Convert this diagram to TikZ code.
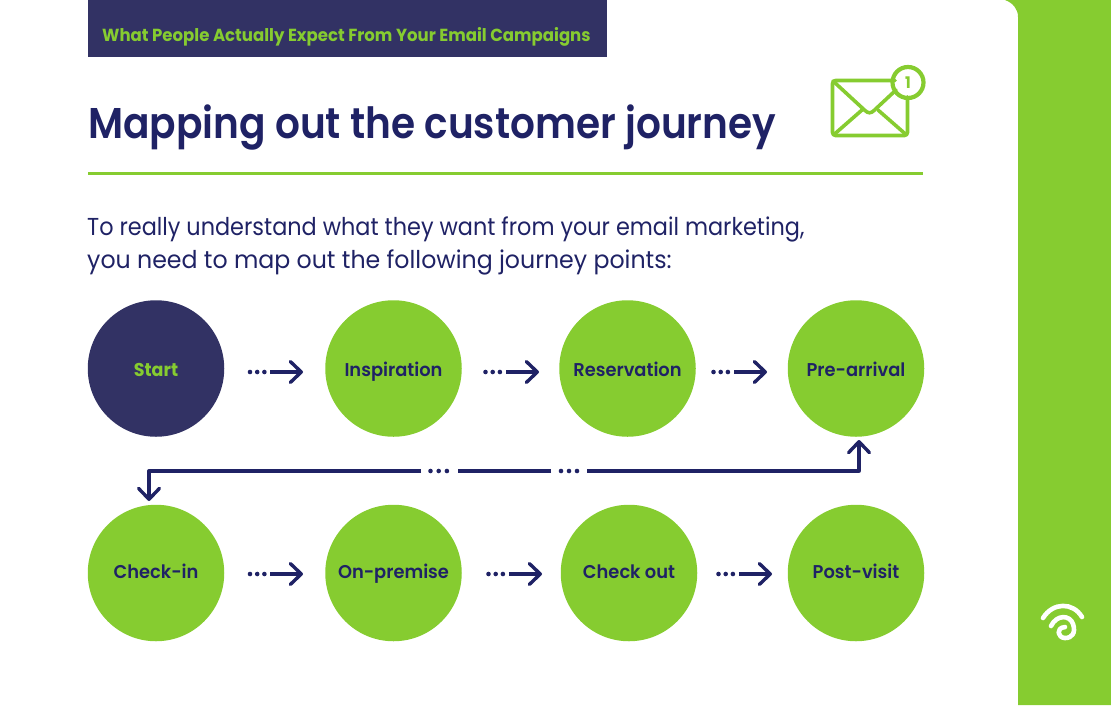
\documentclass[tikz,border=0pt]{standalone}
\usepackage{fontspec}
\setmainfont{Poppins}[BoldFont={Poppins SemiBold},FakeStretch=0.965]
\newfontfamily\titlefont{Poppins SemiBold}[FakeStretch=0.908]
\newfontfamily\headfont{Poppins Bold}[FakeStretch=0.945]
\newfontfamily\lineonefont{Poppins}[FakeStretch=0.913]
\newfontfamily\linetwofont{Poppins}[FakeStretch=0.966]
\usetikzlibrary{arrows.meta}
\definecolor{lime}{HTML}{86CC30}
\definecolor{navy}{HTML}{1F2265}
\definecolor{navyfill}{HTML}{323264}
\tikzset{
  x=1pt,y=-1pt,
  stage/.style={circle,fill=lime,minimum size=136.5pt,inner sep=0pt,text=navy,text height=18pt,text depth=2pt,font=\bfseries\fontsize{18.5}{20}\selectfont},
  lowstage/.style={stage,text height=14pt,text depth=3pt},
  conn/.style={draw=navy,line width=3.3pt,-{Straight Barb[length=11pt,width=21pt,line width=3.4pt,round]},line join=round},
  dots/.style={draw=navy,line width=4.6pt,line cap=round,dash pattern=on 0pt off 7.2pt},
  trunk/.style={draw=navy,line width=3.3pt},
  icon/.style={draw=lime,line width=3.6pt,line cap=round,line join=round},
}
\begin{document}
\begin{tikzpicture}
\useasboundingbox (0,0) rectangle (1111,705);
% side bar
\fill[lime] (1005,0) .. controls (1013,3) and (1018,9) .. (1018,17) -- (1018,705) -- (1111,705) -- (1111,0) -- cycle;
\draw[white,line width=4.6pt,line cap=round] (1043,618) .. controls (1053,602) and (1073,602) .. (1082,617);
\draw[white,line width=4.6pt,line cap=round,line join=round] (1051,626) .. controls (1057,614) and (1070,615) .. (1073,624) .. controls (1076,633) and (1072,638) .. (1065,638) .. controls (1058,638) and (1055,628) .. (1065,627);
% header
\node[anchor=north west,fill=navyfill,minimum width=519pt,minimum height=56.5pt,inner sep=0pt] (hdr) at (88,0) {};
\node[anchor=base west,inner sep=0pt,text=lime,font=\headfont\fontsize{17.5}{20}\selectfont] (hdrtext) at (102,41) {What People Actually Expect From Your Email Campaigns};
% title
\node[anchor=base west,inner sep=0pt,text=navy,font=\titlefont\fontsize{43}{50}\selectfont] (title) at (88,138) {Mapping out the customer journey};
\fill[lime] (88,171.5) rectangle (922.5,175);
% envelope
\draw[icon,rounded corners=3pt] (895,80.5) -- (832.5,80.5) -- (832.5,135.5) -- (907.5,135.5) -- (907.5,97);
\draw[icon] (833,81) -- (865,110.5) .. controls (868,113.5) and (871,113.5) .. (874,110.5) -- (896,90);
\draw[icon] (834,134.5) -- (862,110);
\draw[icon] (906,134.5) -- (878,110);
\node[circle,draw=lime,line width=4.2pt,minimum size=31pt,inner sep=0pt,text=lime,font=\headfont\fontsize{16}{16}\selectfont] (badge) at (908,82.5) {1};
% intro
\node[anchor=base west,inner sep=0pt,text=navy,font=\lineonefont\fontsize{24.5}{30}\selectfont] (l1) at (87,235) {To really understand what they want from your email marketing,};
\node[anchor=base west,inner sep=0pt,text=navy,font=\linetwofont\fontsize{24.5}{30}\selectfont] (l2) at (87,268) {you need to map out the following journey points:};
% stages
\node[stage,fill=navyfill,text=lime,font=\headfont\fontsize{18.5}{20}\selectfont] (start) at (156,368.5) {Start};
\node[stage] (insp) at (393.5,368.5) {Inspiration};
\node[stage] (resv) at (627.5,368.5) {Reservation};
\node[stage] (prea) at (856,368.5) {Pre-arrival};
\node[lowstage] (chin) at (156,573) {Check-in};
\node[lowstage] (onpr) at (393.5,573) {On-premise};
\node[lowstage] (chou) at (629,573) {Check out};
\node[lowstage] (post) at (856,573) {Post-visit};
% connector ends
\foreach \n/\d/\a/\b/\y in {a1/250/270/303/372, a2/485.5/506/539/372, a3/713.5/734/767/372, b1/250/270/303/574, b2/488.5/509/542/574, b3/718.5/739/772/574}{
  \coordinate (\n d) at (\d,\y);
  \coordinate (\n s) at (\a,\y);
  \coordinate (\n e) at (\b,\y);
  \draw[dots] (\n d) -- ++(16,0);
  \draw[conn] (\n s) -- (\n e);
}
% long connector
\coordinate (l0) at (859,440);
\coordinate (lc) at (859,471);
\coordinate (lg1) at (587,471);
\coordinate (lg2) at (551,471);
\coordinate (lg3) at (458,471);
\coordinate (lg4) at (421,471);
\coordinate (lc2) at (149,471);
\coordinate (l9) at (149,501);
\draw[conn] (lg1) -- (lc) -- (l0);
\draw[trunk] (lg2) -- (lg3);
\draw[conn] (lg4) -- (lc2) -- (l9);
\draw[dots,dash pattern=on 0pt off 8.2pt] (430.5,471) -- (449,471);
\draw[dots,dash pattern=on 0pt off 8pt] (561,471) -- (578,471);
\end{tikzpicture}
\end{document}
